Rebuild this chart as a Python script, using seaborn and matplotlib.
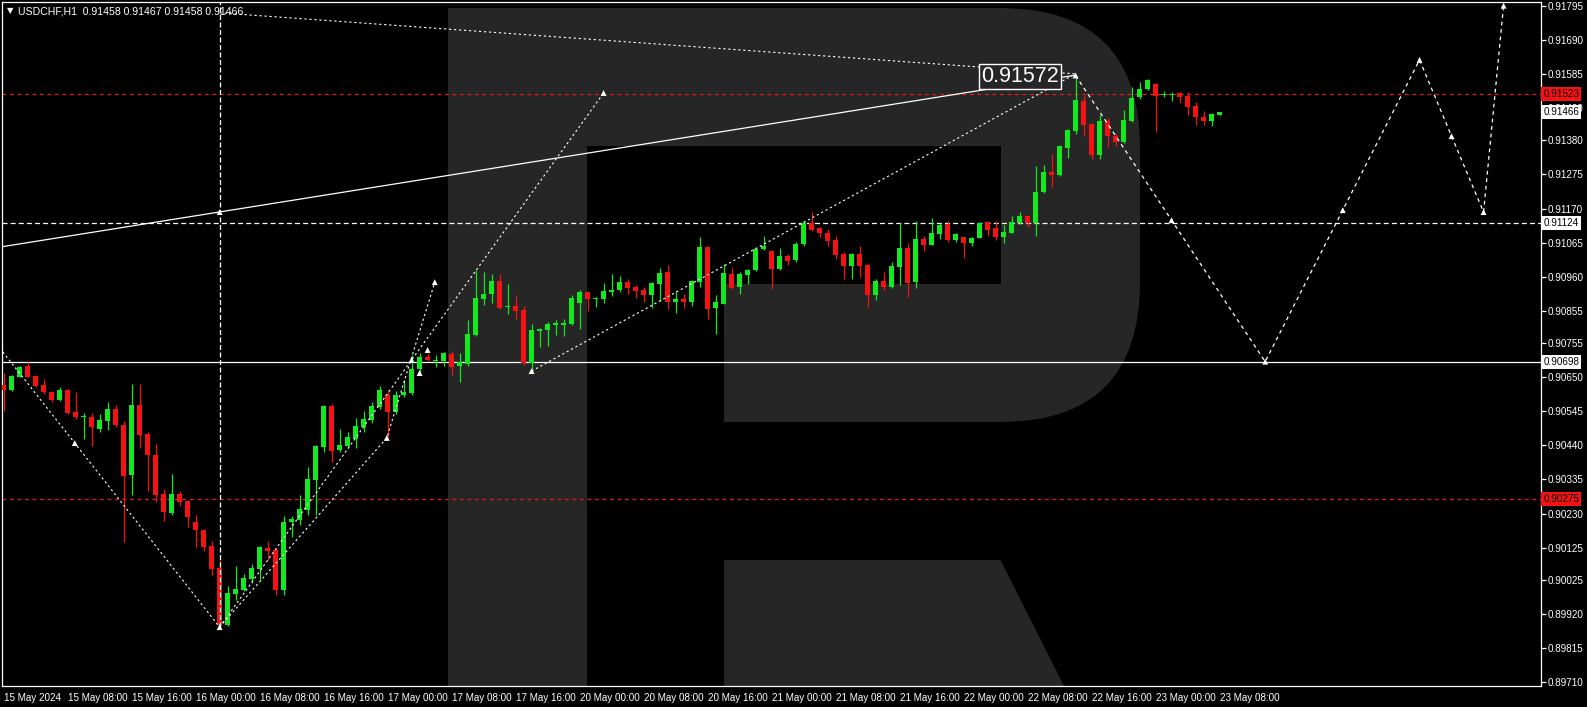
import matplotlib
matplotlib.use('Agg')
import matplotlib.pyplot as plt
import matplotlib.transforms as mtransforms
from matplotlib.patches import Rectangle, Polygon, FancyBboxPatch
import numpy as np
import pandas as pd
import seaborn as sns

# ---- velas H1 USDCHF (15 May 00:00 -> 23 May 08:00) ----
opens = [0.90626, 0.90611, 0.90652, 0.90685, 0.90654, 0.90626, 0.90606, 0.90580, 0.90611, 0.90544,
         0.90526, 0.90527, 0.90491, 0.90516, 0.90552, 0.90503, 0.90349, 0.90563, 0.90475, 0.90411,
         0.90290, 0.90233, 0.90290, 0.90269, 0.90205, 0.90180, 0.90130, 0.90062, 0.89887, 0.89983,
         0.89995, 0.90029, 0.90059, 0.90123, 0.90118, 0.89993, 0.90205, 0.90210, 0.90241, 0.90334,
         0.90434, 0.90560, 0.90426, 0.90438, 0.90460, 0.90498, 0.90519, 0.90558, 0.90594, 0.90544,
         0.90594, 0.90601, 0.90676, 0.90712, 0.90700, 0.90700, 0.90722, 0.90686, 0.90691, 0.90780,
         0.90891, 0.90906, 0.90946, 0.90867, 0.90870, 0.90857, 0.90695, 0.90793, 0.90795, 0.90812,
         0.90811, 0.90814, 0.90880, 0.90913, 0.90891, 0.90891, 0.90914, 0.90919, 0.90944, 0.90927,
         0.90919, 0.90903, 0.90937, 0.90974, 0.90883, 0.90891, 0.90883, 0.90944, 0.91051, 0.90864,
         0.90877, 0.90967, 0.90929, 0.90965, 0.90980, 0.91045, 0.91039, 0.90983, 0.91023, 0.91011,
         0.91060, 0.91124, 0.91110, 0.91093, 0.91073, 0.91030, 0.90994, 0.91030, 0.90996, 0.90903,
         0.90947, 0.90929, 0.90991, 0.91047, 0.90942, 0.91076, 0.91058, 0.91092, 0.91121, 0.91073,
         0.91081, 0.91063, 0.91080, 0.91128, 0.91109, 0.91081, 0.91096, 0.91125, 0.91147, 0.91125,
         0.91222, 0.91282, 0.91273, 0.91358, 0.91409, 0.91501, 0.91431, 0.91335, 0.91440, 0.91394,
         0.91376, 0.91440, 0.91513, 0.91537, 0.91554, 0.91519, 0.91521, 0.91525, 0.91518, 0.91487,
         0.91453, 0.91441, 0.91458]
highs = [0.90662, 0.90657, 0.90685, 0.90697, 0.90656, 0.90645, 0.90608, 0.90619, 0.90613, 0.90603,
         0.90539, 0.90539, 0.90537, 0.90574, 0.90563, 0.90515, 0.90629, 0.90629, 0.90481, 0.90445,
         0.90306, 0.90352, 0.90298, 0.90270, 0.90226, 0.90182, 0.90144, 0.90092, 0.90007, 0.90069,
         0.90044, 0.90075, 0.90130, 0.90146, 0.90123, 0.90221, 0.90221, 0.90287, 0.90372, 0.90441,
         0.90563, 0.90568, 0.90491, 0.90481, 0.90524, 0.90547, 0.90574, 0.90623, 0.90611, 0.90609,
         0.90642, 0.90719, 0.90724, 0.90726, 0.90719, 0.90727, 0.90731, 0.90724, 0.90826, 0.90980,
         0.90974, 0.90968, 0.90968, 0.90937, 0.90903, 0.90870, 0.90814, 0.90801, 0.90821, 0.90826,
         0.90829, 0.90903, 0.90919, 0.90915, 0.90898, 0.90941, 0.90968, 0.90962, 0.90953, 0.90934,
         0.90927, 0.90944, 0.90986, 0.90996, 0.90916, 0.90908, 0.90950, 0.91083, 0.91053, 0.90903,
         0.90999, 0.90989, 0.90975, 0.90983, 0.91049, 0.91085, 0.91041, 0.91049, 0.91030, 0.91067,
         0.91131, 0.91158, 0.91114, 0.91106, 0.91085, 0.91035, 0.91032, 0.91054, 0.90998, 0.90953,
         0.90974, 0.91004, 0.91125, 0.91065, 0.91132, 0.91086, 0.91142, 0.91125, 0.91130, 0.91096,
         0.91083, 0.91083, 0.91127, 0.91130, 0.91130, 0.91119, 0.91147, 0.91160, 0.91150, 0.91301,
         0.91304, 0.91338, 0.91365, 0.91414, 0.91572, 0.91518, 0.91433, 0.91458, 0.91448, 0.91402,
         0.91474, 0.91544, 0.91559, 0.91569, 0.91556, 0.91533, 0.91530, 0.91530, 0.91530, 0.91499,
         0.91472, 0.91463, 0.91467]
lows = [0.90547, 0.90609, 0.90650, 0.90650, 0.90619, 0.90598, 0.90575, 0.90577, 0.90537, 0.90522,
        0.90460, 0.90439, 0.90481, 0.90488, 0.90498, 0.90141, 0.90287, 0.90433, 0.90298, 0.90267,
        0.90207, 0.90226, 0.90252, 0.90190, 0.90128, 0.90116, 0.90041, 0.89884, 0.89884, 0.89964,
        0.89990, 0.90015, 0.90026, 0.90087, 0.89979, 0.89978, 0.90159, 0.90195, 0.90226, 0.90226,
        0.90421, 0.90390, 0.90421, 0.90433, 0.90433, 0.90480, 0.90508, 0.90551, 0.90467, 0.90537,
        0.90588, 0.90594, 0.90667, 0.90701, 0.90683, 0.90686, 0.90657, 0.90636, 0.90686, 0.90777,
        0.90873, 0.90878, 0.90860, 0.90845, 0.90829, 0.90688, 0.90675, 0.90744, 0.90747, 0.90780,
        0.90777, 0.90811, 0.90799, 0.90855, 0.90867, 0.90880, 0.90901, 0.90914, 0.90906, 0.90895,
        0.90883, 0.90864, 0.90885, 0.90860, 0.90849, 0.90864, 0.90870, 0.90929, 0.90828, 0.90783,
        0.90875, 0.90921, 0.90906, 0.90937, 0.90977, 0.91042, 0.90922, 0.90980, 0.90996, 0.91004,
        0.91055, 0.91101, 0.91083, 0.91055, 0.91014, 0.90953, 0.90953, 0.90960, 0.90867, 0.90888,
        0.90919, 0.90926, 0.90935, 0.90897, 0.90926, 0.91040, 0.91056, 0.91076, 0.91068, 0.91068,
        0.91019, 0.91053, 0.91078, 0.91086, 0.91073, 0.91063, 0.91094, 0.91122, 0.91112, 0.91086,
        0.91217, 0.91237, 0.91270, 0.91327, 0.91400, 0.91394, 0.91322, 0.91323, 0.91361, 0.91363,
        0.91373, 0.91436, 0.91508, 0.91535, 0.91407, 0.91515, 0.91502, 0.91494, 0.91458, 0.91427,
        0.91427, 0.91425, 0.91458]
closes = [0.90611, 0.90654, 0.90683, 0.90652, 0.90624, 0.90603, 0.90580, 0.90611, 0.90541, 0.90526,
          0.90527, 0.90496, 0.90519, 0.90552, 0.90503, 0.90347, 0.90563, 0.90472, 0.90409, 0.90287,
          0.90236, 0.90290, 0.90265, 0.90218, 0.90180, 0.90128, 0.90059, 0.89887, 0.89984, 0.89998,
          0.90032, 0.90062, 0.90128, 0.90116, 0.89995, 0.90205, 0.90214, 0.90244, 0.90337, 0.90439,
          0.90560, 0.90423, 0.90441, 0.90467, 0.90500, 0.90522, 0.90560, 0.90611, 0.90544, 0.90596,
          0.90606, 0.90676, 0.90712, 0.90703, 0.90702, 0.90724, 0.90683, 0.90698, 0.90783, 0.90895,
          0.90908, 0.90946, 0.90864, 0.90870, 0.90855, 0.90695, 0.90795, 0.90798, 0.90814, 0.90816,
          0.90818, 0.90895, 0.90914, 0.90890, 0.90894, 0.90917, 0.90919, 0.90944, 0.90926, 0.90916,
          0.90903, 0.90939, 0.90972, 0.90883, 0.90891, 0.90883, 0.90946, 0.91051, 0.90860, 0.90881,
          0.90970, 0.90926, 0.90968, 0.90982, 0.91045, 0.91054, 0.90983, 0.91023, 0.91009, 0.91062,
          0.91124, 0.91104, 0.91093, 0.91071, 0.91027, 0.90994, 0.91030, 0.90994, 0.90903, 0.90946,
          0.90929, 0.90993, 0.91047, 0.90940, 0.91076, 0.91058, 0.91094, 0.91119, 0.91073, 0.91092,
          0.91063, 0.91078, 0.91125, 0.91104, 0.91081, 0.91097, 0.91128, 0.91147, 0.91125, 0.91220,
          0.91282, 0.91273, 0.91363, 0.91412, 0.91504, 0.91427, 0.91335, 0.91440, 0.91392, 0.91376,
          0.91443, 0.91510, 0.91538, 0.91566, 0.91518, 0.91521, 0.91524, 0.91513, 0.91484, 0.91451,
          0.91441, 0.91461, 0.91466]

x_labels = ['15 May 2024', '15 May 08:00', '15 May 16:00', '16 May 00:00', '16 May 08:00',
            '16 May 16:00', '17 May 00:00', '17 May 08:00', '17 May 16:00', '20 May 00:00',
            '20 May 08:00', '20 May 16:00', '21 May 00:00', '21 May 08:00', '21 May 16:00',
            '22 May 00:00', '22 May 08:00', '22 May 16:00', '23 May 00:00', '23 May 08:00']
price_ticks = [0.91795, 0.91690, 0.91585, 0.91480, 0.91380, 0.91275, 0.91170, 0.91065, 0.90960,
               0.90855, 0.90755, 0.90650, 0.90545, 0.90440, 0.90335, 0.90230, 0.90125, 0.90025,
               0.89920, 0.89815, 0.89710]

# niveles horizontales
red_levels = [0.91523, 0.90275]
white_dashed_level = 0.91124
white_solid_level = 0.90698
last_price = 0.91466
high_label = 0.91572

# lineas de analisis (indice de vela, precio)
wave_down_x = [-0.1, 8.9, 27]
wave_down_y = [0.90728, 0.90447, 0.89880]
wave_up_x = [27, 47.9, 53.9]
wave_up_y = [0.89880, 0.90463, 0.90943]
channel_x = [27, 75]
channel_y = [0.89880, 0.91526]
trend_x = [66, 134]
trend_y = [0.90669, 0.91585]
top_x = [27, 134]
top_y = [0.91773, 0.91585]
solid_x = [-0.5, 134]
solid_y = [0.91051, 0.91581]
forecast_x = [134, 146, 157.7, 167.4, 177, 181, 185, 187.5]
forecast_y = [0.91580, 0.91134, 0.90698, 0.91165, 0.91628, 0.91393, 0.91159, 0.91795]
extra_x = [8.9, 27, 47.9, 53.9, 51, 52, 53, 75, 66, 27]
extra_y = [0.90447, 0.89880, 0.90463, 0.90943, 0.90703, 0.90663, 0.90734, 0.91526, 0.90669, 0.91159]

W, H = 1587, 707
BG = '#000000'
LOGO = '#262626'
GREEN = '#12ea1f'
RED = '#f51212'
LRED = '#e01b1b'

sns.set_style("dark", {"axes.facecolor": BG, "figure.facecolor": BG})
plt.rcParams['font.family'] = ['Liberation Sans', 'DejaVu Sans']

fig = plt.figure(figsize=(W / 100, H / 100), dpi=100)
ax = fig.add_axes([2.3 / W, (H - 686) / H, (1541 - 2.3) / W, 684 / H])
ax.set_facecolor(BG)
ax.set_xlim(-0.1625, 192.18)
ax.set_ylim(0.896985, 0.918064)

# logo R de fondo (coordenadas en pixeles, y hacia abajo)
px = mtransforms.Affine2D().scale(1, -1).translate(0, H)
ax.add_patch(FancyBboxPatch((448, 8), 1140 - 448, 422 - 8, boxstyle="round,pad=0,rounding_size=140",
                            transform=px, facecolor=LOGO, edgecolor='none', zorder=0))
ax.add_patch(Rectangle((448, 8), 587 - 448, 700, transform=px, facecolor=LOGO, edgecolor='none', zorder=0.1))
ax.add_patch(Rectangle((587, 146), 1000.5 - 587, 284 - 146, transform=px, facecolor=BG, edgecolor='none', zorder=0.2))
ax.add_patch(Rectangle((587, 284), 724 - 587, 422 - 284, transform=px, facecolor=BG, edgecolor='none', zorder=0.2))
ax.add_patch(Polygon([(724, 560), (1000.5, 560), (1074.6, 707), (724, 707)], closed=True,
                     transform=px, facecolor=LOGO, edgecolor='none', zorder=0.1))

# velas
df = pd.DataFrame({'open': opens, 'high': highs, 'low': lows, 'close': closes})
df['idx'] = np.arange(len(df))
df['up'] = df['close'] >= df['open']
df['color'] = np.where(df['up'], GREEN, RED)
body_low = np.minimum(df['open'], df['close'])
body_h = np.maximum(np.abs(df['close'] - df['open']), 3.2e-5)
ax.vlines(df['idx'], df['low'], df['high'], colors=df['color'], linewidth=0.9, zorder=3)
ax.bar(df['idx'], body_h, bottom=body_low, width=0.62, color=df['color'], linewidth=0, zorder=3)

# niveles horizontales
for lvl in red_levels:
    ax.axhline(lvl, color=LRED, linewidth=0.9, linestyle=(0, (3, 3)), zorder=2)
ax.axhline(white_dashed_level, color='white', linewidth=0.9, linestyle=(0, (4, 2.5)), zorder=2)
ax.axhline(white_solid_level, color='white', linewidth=0.9, zorder=2)

# lineas dibujadas
dot = (0, (2, 2.5))
ax.plot(wave_down_x, wave_down_y, color='white', linewidth=0.8, linestyle=dot, zorder=4)
ax.plot(wave_up_x, wave_up_y, color='white', linewidth=0.8, linestyle=dot, zorder=4)
ax.plot(channel_x, channel_y, color='white', linewidth=0.8, linestyle=dot, zorder=4)
ax.plot(trend_x, trend_y, color='white', linewidth=0.8, linestyle=dot, zorder=4)
ax.plot(top_x, top_y, color='white', linewidth=0.8, linestyle=dot, zorder=4)
ax.plot(solid_x, solid_y, color='white', linewidth=0.9, zorder=4)
ax.plot([27, 27], [0.89880, 0.918064], color='white', linewidth=0.9, linestyle=(0, (4, 2)), zorder=4)
sns.lineplot(x=forecast_x, y=forecast_y, ax=ax, color='white', linewidth=0.9,
             linestyle=(0, (3, 3)), sort=False, zorder=4)

markers = pd.DataFrame({'x': extra_x + forecast_x, 'y': extra_y + forecast_y})
sns.scatterplot(data=markers, x='x', y='y', ax=ax, marker='^', s=18, color='white',
                edgecolor='none', zorder=6, legend=False)

# etiqueta del maximo
ax.text(127.1, 0.91576, f"{high_label:.5f}", color='white', fontsize=15.5,
        family=['Liberation Sans Narrow', 'Liberation Sans'], ha='center', va='center', zorder=7,
        bbox=dict(boxstyle='square,pad=0.1', facecolor=LOGO, edgecolor='white', linewidth=1))

# ejes
for s in ax.spines.values():
    s.set_color('white')
    s.set_linewidth(0.9)
ax.grid(False)
ax.yaxis.tick_right()
ax.set_yticks(price_ticks)
ax.set_yticklabels([f"{v:.5f}" for v in price_ticks])
ax.set_xticks(np.arange(0, 153, 8))
ax.set_xticklabels(x_labels)
ax.tick_params(axis='both', colors='white', labelcolor='white', labelsize=7.1,
               direction='out', length=3.5, width=0.9, pad=1.5)
for lab in ax.get_xticklabels():
    lab.set_horizontalalignment('left')
ax.set_xlabel('')
ax.set_ylabel('')

# etiquetas de precio recuadradas a la derecha (tapan la marca 0.91480 como en MT4)
trans = mtransforms.blended_transform_factory(ax.transAxes, ax.transData)
boxes = [(red_levels[0], RED), (last_price, 'white'), (white_dashed_level, 'white'),
         (white_solid_level, 'white'), (red_levels[1], RED)]
for val, fc in boxes:
    ax.text(1.0016, val, f"{val:.5f}", transform=trans, color='black', fontsize=7.1,
            ha='left', va='center', zorder=10, clip_on=False,
            bbox=dict(boxstyle='square,pad=0.2', facecolor=fc, edgecolor='none'))

# encabezado
fig.text(7 / W, 1 - 11 / H, "\u25bc", color='white', fontsize=6, va='center', ha='left',
         family=['DejaVu Sans'])
fig.text(18 / W, 1 - 11 / H, "USDCHF,H1  0.91458 0.91467 0.91458 0.91466", color='white',
         fontsize=7.6, va='center', ha='left')

fig.savefig('out.png', dpi=100, facecolor=BG)
